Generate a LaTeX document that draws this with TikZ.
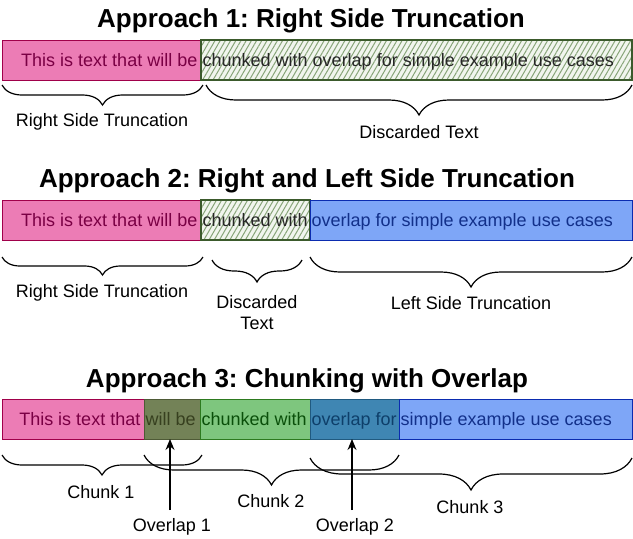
\documentclass[tikz,border=0pt]{standalone}
\usepackage{fontspec}
\setmainfont{Liberation Sans}
\frenchspacing
\usetikzlibrary{positioning,decorations.pathreplacing,patterns.meta,arrows.meta}
\definecolor{pinkfill}{HTML}{EC7CB5}
\definecolor{pinkline}{HTML}{A0004A}
\definecolor{pinktext}{HTML}{7A0044}
\definecolor{bluefill}{HTML}{7EA6F7}
\definecolor{blueline}{HTML}{0B2CB0}
\definecolor{bluetext}{HTML}{12308A}
\definecolor{greenfill}{HTML}{7EC67E}
\definecolor{greenline}{HTML}{2D7A1F}
\definecolor{greentext}{HTML}{0A4F0A}
\definecolor{olivefill}{HTML}{738257}
\definecolor{oliveline}{HTML}{4E5A36}
\definecolor{olivetext}{HTML}{37401F}
\definecolor{tealfill}{HTML}{3F86B3}
\definecolor{tealline}{HTML}{205A80}
\definecolor{tealtext}{HTML}{0E3F6A}
\definecolor{hatchbg}{HTML}{F1F5EE}
\definecolor{hatchline}{HTML}{88A579}
\definecolor{hatchdraw}{HTML}{3B5A2C}

\begin{document}
\begin{tikzpicture}[x=1pt,y=-1pt,
    seg/.style={draw, minimum height=40pt, inner sep=0pt, outer sep=0pt, anchor=north west, line width=0.8pt},
    pinkseg/.style={seg, fill=pinkfill, draw=pinkline},
    blueseg/.style={seg, fill=bluefill, draw=blueline},
    greenseg/.style={seg, fill=greenfill, draw=greenline},
    oliveseg/.style={seg, fill=olivefill, draw=oliveline},
    tealseg/.style={seg, fill=tealfill, draw=tealline},
    hatchseg/.style={seg, preaction={fill=hatchbg}, pattern={Lines[angle=60,distance=4.5pt,line width=1pt]}, pattern color=hatchline, draw=hatchdraw, line width=1.3pt},
    segtext/.style={inner sep=1.5pt, text height=14pt, text depth=4pt, yshift=-1.5pt, font=\fontsize{18}{21}\selectfont},
    title/.style={font=\fontsize{26}{30}\selectfont\bfseries},
    lbl/.style={align=center, font=\fontsize{18}{21}\selectfont},
    brace/.style={decorate, decoration={brace, mirror, amplitude=#1}, line width=1.2pt},
    arr/.style={-{Stealth[length=11pt,width=9pt]}, line width=1.3pt}]
  \useasboundingbox (0,0) rectangle (633,539);

  % Approach 1
  \node[title] (t1) at (311,21) {Approach 1: Right Side Truncation};
  \node[pinkseg, minimum width=199pt] (r1p) at (2,40) {};
  \node[hatchseg, minimum width=431pt, right=0pt of r1p] (r1h) {};
  \node[segtext, text=pinktext, anchor=east] (r1pt) at ([xshift=-2pt]r1p.east) {This is text that will be};
  \node[segtext, text=black!85, anchor=west] (r1ht) at (r1h.west) {chunked with overlap for simple example use cases};
  \draw[brace=20] (2,85) -- (203,85);
  \draw[brace=30] (206,85) -- (632,85);
  \node[lbl] (l1a) at (102,122) {Right Side Truncation};
  \node[lbl] (l1b) at (419,132) {Discarded Text};

  % Approach 2
  \node[title] (t2) at (307,181) {Approach 2: Right and Left Side Truncation};
  \node[pinkseg, minimum width=199pt] (r2p) at (2,200) {};
  \node[hatchseg, minimum width=109pt, right=0pt of r2p] (r2h) {};
  \node[blueseg, minimum width=322pt, right=0pt of r2h] (r2b) {};
  \node[segtext, text=pinktext, anchor=east] (r2pt) at ([xshift=-2pt]r2p.east) {This is text that will be};
  \node[segtext, text=black!85, anchor=west] (r2ht) at (r2h.west) {chunked with};
  \node[segtext, text=bluetext, anchor=west] (r2bt) at (r2b.west) {overlap for simple example use cases};
  \draw[brace=18] (2,257) -- (203,257);
  \draw[brace=22] (212,260) -- (302,260);
  \draw[brace=30] (310,257) -- (632,257);
  \node[lbl] (l2a) at (102,293) {Right Side Truncation};
  \node[lbl] (l2b) at (257,313) {Discarded\\Text};
  \node[lbl] (l2c) at (471,303) {Left Side Truncation};

  % Approach 3
  \node[title] (t3) at (307,381) {Approach 3: Chunking with Overlap};
  \node[pinkseg, minimum width=142pt] (r3p) at (2,399) {};
  \node[oliveseg, minimum width=56pt, right=0pt of r3p] (r3o) {};
  \node[greenseg, minimum width=110pt, right=0pt of r3o] (r3g) {};
  \node[tealseg, minimum width=89pt, right=0pt of r3g] (r3t) {};
  \node[blueseg, minimum width=233pt, right=0pt of r3t] (r3b) {};
  \node[segtext, text=pinktext, anchor=east] (r3pt) at ([xshift=-2pt]r3p.east) {This is text that};
  \node[segtext, text=olivetext, anchor=west] (r3ot) at (r3o.west) {will be};
  \node[segtext, text=greentext, anchor=west] (r3gt) at (r3g.west) {chunked with};
  \node[segtext, text=tealtext, anchor=west] (r3tt) at (r3t.west) {overlap for};
  \node[segtext, text=bluetext, anchor=west] (r3bt) at (r3b.west) {simple example use cases};
  \draw[brace=20] (2,455) -- (202,455);
  \draw[brace=30] (144,455) -- (399,455);
  \draw[brace=32] (310,458) -- (632,458);
  \node[lbl] (c1) at (101,492) {Chunk 1};
  \node[lbl] (c2) at (271,501) {Chunk 2};
  \node[lbl] (c3) at (470,507) {Chunk 3};
  \node[lbl] (ov1) at (172,527) {Overlap 1};
  \node[lbl] (ov2) at (355,527) {Overlap 2};
  \draw[arr] ([xshift=-2pt,yshift=5pt]ov1.north) -- ([xshift=-2pt]ov1.north |- r3o.south);
  \draw[arr] ([xshift=-3pt,yshift=5pt]ov2.north) -- ([xshift=-3pt]ov2.north |- r3t.south);
\end{tikzpicture}
\end{document}
